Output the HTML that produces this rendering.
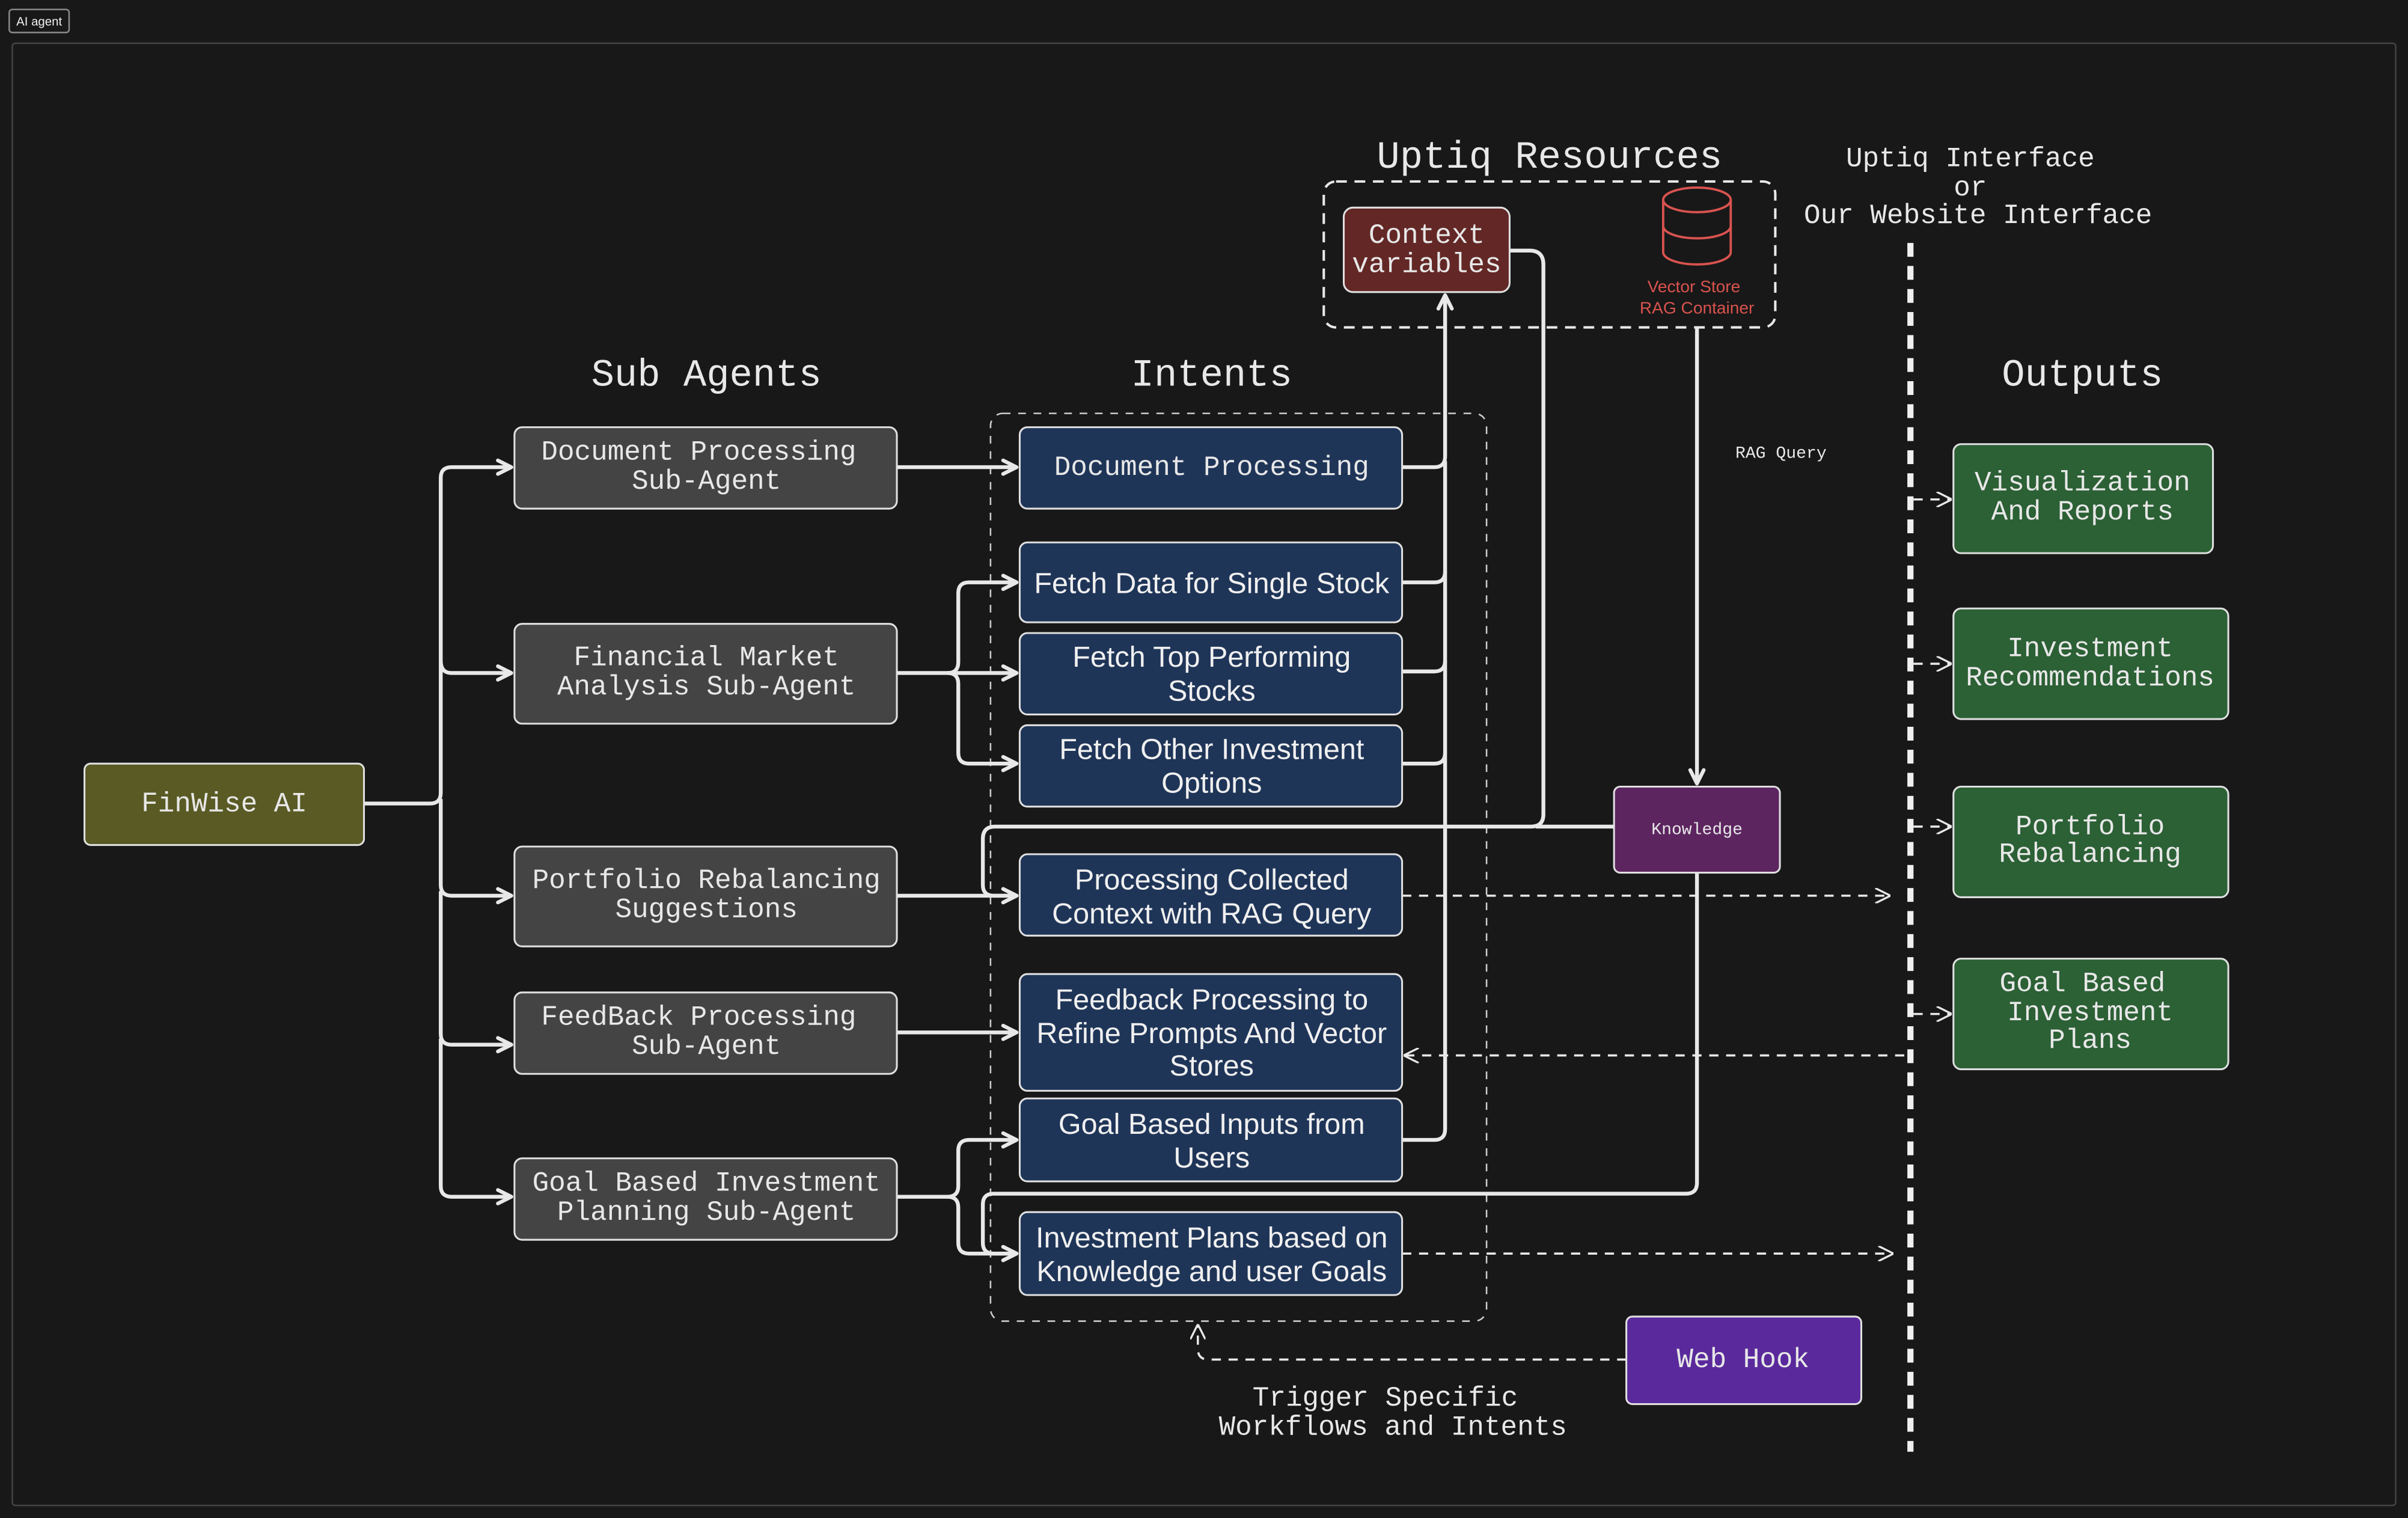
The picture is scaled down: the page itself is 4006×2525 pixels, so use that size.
<!DOCTYPE html>
<html><head><meta charset="utf-8"><style>
html,body{margin:0;padding:0;background:#181818;}
svg{display:block}
.m{font-family:"Liberation Mono",monospace;fill:#e8e8e8}
.s{font-family:"Liberation Sans",sans-serif;fill:#f0f0f0}
</style></head><body>
<svg width="4006" height="2525" viewBox="0 0 1568 988" xmlns="http://www.w3.org/2000/svg">
<defs>
<marker id="a" viewBox="0 0 10 10" refX="9" refY="5" markerWidth="11" markerHeight="11" orient="auto-start-reverse" markerUnits="userSpaceOnUse" style="overflow:visible"><path d="M1,1 L9,5 L1,9" fill="none" stroke="#e8e8e8" stroke-width="2.2" stroke-linecap="round" stroke-linejoin="round"/></marker>
<marker id="d" viewBox="0 0 10 10" refX="9" refY="5" markerWidth="10" markerHeight="10" orient="auto-start-reverse" markerUnits="userSpaceOnUse"><path d="M0,0 L10,5 L0,10" fill="none" stroke="#e8e8e8" stroke-width="1.3"/></marker>
</defs>
<rect width="1568" height="988" fill="#181818"/>
<rect x="6" y="6" width="39" height="15" rx="2" fill="none" stroke="#888" stroke-width="1"/>
<text x="25.5" y="16.5" text-anchor="middle" class="s" font-size="8">AI agent</text>
<rect x="8" y="28" width="1552" height="952" rx="2" fill="none" stroke="#444" stroke-width="1"/>

<text x="460" y="251" text-anchor="middle" class="m" font-size="25">Sub Agents</text>
<text x="789" y="251" text-anchor="middle" class="m" font-size="25">Intents</text>
<text x="1356" y="251" text-anchor="middle" class="m" font-size="25">Outputs</text>
<text x="1009" y="109" text-anchor="middle" class="m" font-size="25">Uptiq Resources</text>
<text x="1283" y="108" text-anchor="middle" class="m" font-size="18">Uptiq Interface</text>
<text x="1283" y="127" text-anchor="middle" class="m" font-size="18">or</text>
<text x="1288" y="145" text-anchor="middle" class="m" font-size="18">Our Website Interface</text>

<rect x="645" y="269" width="323" height="591" rx="8" fill="none" stroke="#ccc" stroke-width="1" stroke-dasharray="5,5"/>
<rect x="862" y="118" width="294" height="95" rx="8" fill="none" stroke="#e8e8e8" stroke-width="1.6" stroke-dasharray="7,5"/>
<line x1="1244" y1="158" x2="1244" y2="945" stroke="#f0f0f0" stroke-width="4" stroke-dasharray="9,6"/>

<g fill="none" stroke="#e8e8e8" stroke-width="2.5">
<path d="M237,523 H280 Q287,523 287,516 V311 Q287,304 294,304 H333" marker-end="url(#a)"/>
<path d="M287,430 Q287,438 294,438 H333" marker-end="url(#a)"/>
<path d="M287,520 V576 Q287,583 294,583 H333" marker-end="url(#a)"/>
<path d="M287,580 V673 Q287,680 294,680 H333" marker-end="url(#a)"/>
<path d="M287,676 V772 Q287,779 294,779 H333" marker-end="url(#a)"/>
<path d="M584,304 H662" marker-end="url(#a)"/>
<path d="M584,438 H617 Q624,438 624,431 V386 Q624,379 631,379 H662" marker-end="url(#a)"/>
<path d="M617,438 H662" marker-end="url(#a)"/>
<path d="M617,438 Q624,438 624,445 V490 Q624,497 631,497 H662" marker-end="url(#a)"/>
<path d="M584,583 H662" marker-end="url(#a)"/>
<path d="M584,672 H662" marker-end="url(#a)"/>
<path d="M584,779 H617 Q624,779 624,772 V749 Q624,742 631,742 H662" marker-end="url(#a)"/>
<path d="M617,779 Q624,779 624,786 V809 Q624,816 631,816 H662" marker-end="url(#a)"/>
<path d="M913,304 H934 Q941,304 941,297 V192" marker-end="url(#a)"/>
<path d="M913,379 H934 Q941,379 941,372"/>
<path d="M913,437 H934 Q941,437 941,430"/>
<path d="M913,497 H934 Q941,497 941,490"/>
<path d="M913,742 H934 Q941,742 941,735 V300"/>
<path d="M983,163 H996 Q1005,163 1005,172 V530 Q1005,538 997,538 H648 Q640,538 640,546 V576 Q640,583 647,583 H662" marker-end="url(#a)"/>
<path d="M1051,538 H1000"/>
<path d="M1105,213 V510" marker-end="url(#a)"/>
<path d="M1105,568 V770 Q1105,777 1098,777 H647 Q640,777 640,784 V809 Q640,816 647,816 H662" marker-end="url(#a)"/>
</g>
<g fill="none" stroke="#e8e8e8" stroke-width="1.4" stroke-dasharray="6,5">
<path d="M913,583 H1230" marker-end="url(#d)"/>
<path d="M913,816 H1232" marker-end="url(#d)"/>
<path d="M1240,687 H915" marker-end="url(#d)"/>
<path d="M1246,325 H1270" marker-end="url(#d)"/>
<path d="M1246,432 H1270" marker-end="url(#d)"/>
<path d="M1246,538 H1270" marker-end="url(#d)"/>
<path d="M1246,660 H1270" marker-end="url(#d)"/>
<path d="M1059,885 H787 Q780,885 780,878 V863" marker-end="url(#d)"/>
</g>
<text x="1130" y="298" class="m" font-size="11">RAG Query</text>

<rect x="55" y="497" width="182" height="53" rx="4" fill="#5a5a25" stroke="#e0e0e0" stroke-width="1.2"/>
<text x="146" y="528" text-anchor="middle" class="m" font-size="18">FinWise AI</text>

<g stroke="#e0e0e0" stroke-width="1.2" fill="#444">
<rect x="335" y="278" width="249" height="53" rx="5"/>
<rect x="335" y="406" width="249" height="65" rx="5"/>
<rect x="335" y="551" width="249" height="65" rx="5"/>
<rect x="335" y="646" width="249" height="53" rx="5"/>
<rect x="335" y="754" width="249" height="53" rx="5"/>
</g>
<g class="m" font-size="18" text-anchor="middle">
<text x="455" y="299">Document Processing</text><text x="460" y="318">Sub-Agent</text>
<text x="460" y="433">Financial Market</text><text x="460" y="452">Analysis Sub-Agent</text>
<text x="460" y="578">Portfolio Rebalancing</text><text x="460" y="597">Suggestions</text>
<text x="455" y="667">FeedBack Processing</text><text x="460" y="686">Sub-Agent</text>
<text x="460" y="775">Goal Based Investment</text><text x="460" y="794">Planning Sub-Agent</text>
</g>

<g stroke="#e0e0e0" stroke-width="1.2" fill="#1f3558">
<rect x="664" y="278" width="249" height="53" rx="5"/>
<rect x="664" y="353" width="249" height="52" rx="5"/>
<rect x="664" y="412" width="249" height="53" rx="5"/>
<rect x="664" y="472" width="249" height="53" rx="5"/>
<rect x="664" y="556" width="249" height="53" rx="5"/>
<rect x="664" y="634" width="249" height="76" rx="5"/>
<rect x="664" y="715" width="249" height="54" rx="5"/>
<rect x="664" y="789" width="249" height="54" rx="5"/>
</g>
<text x="789" y="309" text-anchor="middle" class="m" font-size="18">Document Processing</text>
<g class="s" font-size="19" text-anchor="middle">
<text x="789" y="386">Fetch Data for Single Stock</text>
<text x="789" y="434">Fetch Top Performing</text><text x="789" y="456">Stocks</text>
<text x="789" y="494">Fetch Other Investment</text><text x="789" y="516">Options</text>
<text x="789" y="579">Processing Collected</text><text x="789" y="601">Context with RAG Query</text>
<text x="789" y="657">Feedback Processing to</text><text x="789" y="679">Refine Prompts And Vector</text><text x="789" y="700">Stores</text>
<text x="789" y="738">Goal Based Inputs from</text><text x="789" y="760">Users</text>
<text x="789" y="812">Investment Plans based on</text><text x="789" y="834">Knowledge and  user Goals</text>
</g>

<rect x="875" y="135" width="108" height="55" rx="6" fill="#632826" stroke="#e0e0e0" stroke-width="1.2"/>
<text x="929" y="158" text-anchor="middle" class="m" font-size="18">Context</text>
<text x="929" y="177" text-anchor="middle" class="m" font-size="18">variables</text>
<g fill="none" stroke="#d9534f" stroke-width="1.5">
<ellipse cx="1105" cy="130" rx="22" ry="8"/>
<path d="M1083,130 V164 A22,8 0 0 0 1127,164 V130"/>
<path d="M1083,147 A22,8 0 0 0 1127,147"/>
</g>
<text x="1103" y="190" text-anchor="middle" class="s" font-size="11" style="fill:#d9534f">Vector Store</text>
<text x="1105" y="204" text-anchor="middle" class="s" font-size="11" style="fill:#d9534f">RAG Container</text>

<rect x="1051" y="512" width="108" height="56" rx="4" fill="#5d2560" stroke="#e0e0e0" stroke-width="1.2"/>
<text x="1105" y="543" text-anchor="middle" class="m" font-size="11">Knowledge</text>

<rect x="1059" y="857" width="153" height="57" rx="4" fill="#5a2a9c" stroke="#e0e0e0" stroke-width="1.2"/>
<text x="1135" y="890" text-anchor="middle" class="m" font-size="18">Web Hook</text>
<text x="902" y="915" text-anchor="middle" class="m" font-size="18">Trigger Specific</text>
<text x="907" y="934" text-anchor="middle" class="m" font-size="18">Workflows and Intents</text>

<g stroke="#e0e0e0" stroke-width="1.2" fill="#2c6035">
<rect x="1272" y="289" width="169" height="71" rx="5"/>
<rect x="1272" y="396" width="179" height="72" rx="5"/>
<rect x="1272" y="512" width="179" height="72" rx="5"/>
<rect x="1272" y="624" width="179" height="72" rx="5"/>
</g>
<g class="m" font-size="18" text-anchor="middle">
<text x="1356" y="319">Visualization</text><text x="1356" y="338">And Reports</text>
<text x="1361" y="427">Investment</text><text x="1361" y="446">Recommendations</text>
<text x="1361" y="543">Portfolio</text><text x="1361" y="561">Rebalancing</text>
<text x="1356" y="645">Goal Based</text><text x="1361" y="664">Investment</text><text x="1361" y="682">Plans</text>
</g>
</svg>
</body></html>
